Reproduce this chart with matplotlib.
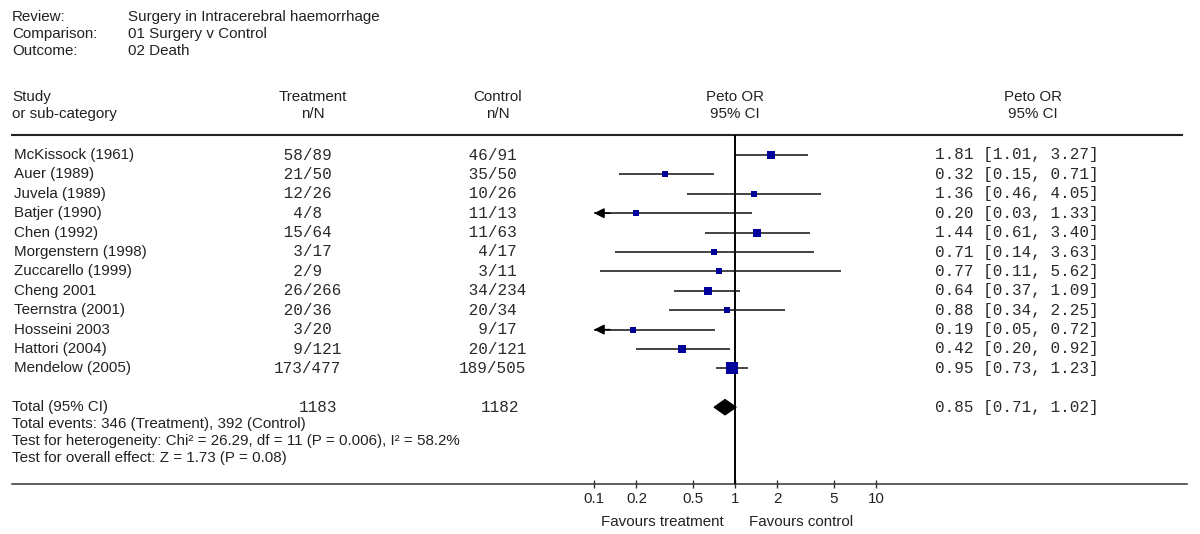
import matplotlib
matplotlib.use("Agg")
import matplotlib.pyplot as plt
from matplotlib.transforms import blended_transform_factory

# ---- data ----
studies = ["McKissock (1961)", "Auer (1989)", "Juvela (1989)", "Batjer (1990)",
           "Chen (1992)", "Morgenstern (1998)", "Zuccarello (1999)", "Cheng 2001",
           "Teernstra (2001)", "Hosseini 2003", "Hattori (2004)", "Mendelow (2005)"]
treat_n = [58, 21, 12, 4, 15, 3, 2, 26, 20, 3, 9, 173]
treat_N = [89, 50, 26, 8, 64, 17, 9, 266, 36, 20, 121, 477]
ctrl_n = [46, 35, 10, 11, 11, 4, 3, 34, 20, 9, 20, 189]
ctrl_N = [91, 50, 26, 13, 63, 17, 11, 234, 34, 17, 121, 505]
peto_or = [1.81, 0.32, 1.36, 0.20, 1.44, 0.71, 0.77, 0.64, 0.88, 0.19, 0.42, 0.95]
ci_lo = [1.01, 0.15, 0.46, 0.03, 0.61, 0.14, 0.11, 0.37, 0.34, 0.05, 0.20, 0.73]
ci_hi = [3.27, 0.71, 4.05, 1.33, 3.40, 3.63, 5.62, 1.09, 2.25, 0.72, 0.92, 1.23]
box_px = [7.5, 6.5, 6.5, 6.5, 7.5, 6.5, 6.5, 8, 6, 6, 7.5, 12.5]  # square sizes

total_treat = 1183
total_ctrl = 1182
total_or, total_lo, total_hi = 0.85, 0.71, 1.02

ticks = [0.1, 0.2, 0.5, 1, 2, 5, 10]
tick_labels = ["0.1", "0.2", "0.5", "1", "2", "5", "10"]

header = [("Review:", "Surgery in Intracerebral haemorrhage"),
          ("Comparison:", "01 Surgery v Control"),
          ("Outcome:", "02 Death")]
footer = ["Total events: 346 (Treatment), 392 (Control)",
          "Test for heterogeneity: Chi\u00b2 = 26.29, df = 11 (P = 0.006), I\u00b2 = 58.2%",
          "Test for overall effect: Z = 1.73 (P = 0.08)"]

W, H = 1200, 534
SANS = "Liberation Sans"
MONO = "Liberation Mono"
TXT = "#222222"
BOX = "#00009a"
fs_sans = 10.9
fs_mono = 11.5
char_px = 0.6 * fs_mono * 100 / 72   # monospace advance in pixels

fig = plt.figure(figsize=(W / 100, H / 100), dpi=100)

# pixel canvas for text and rules
cv = fig.add_axes([0, 0, 1, 1])
cv.set_xlim(0, W)
cv.set_ylim(H, 0)
cv.axis("off")

# forest axes: 0.1 -> x=594px, 10 -> x=876px ; rows between the rules
top_px, bot_px = 135, 484
fx = fig.add_axes([594 / W, 1 - bot_px / H, 282 / W, (bot_px - top_px) / H])
fx.set_xscale("log")
fx.set_xlim(0.1, 10)
row0, step = 155, 19.4
fx.set_ylim((bot_px - row0) / step, (top_px - row0) / step)
fx.patch.set_visible(False)
for s in fx.spines.values():
    s.set_visible(False)
fx.set_yticks([])
fx.set_xticks(ticks)
fx.set_xticklabels(tick_labels, fontfamily=SANS, fontsize=fs_sans, color=TXT)
fx.minorticks_off()
fx.tick_params(axis="x", direction="inout", length=6, width=1, pad=3, color="#333333")

rowtf = blended_transform_factory(cv.transData, fx.transData)

# header block
for i, (lab, val) in enumerate(header):
    y = 17 + i * 17
    cv.text(12, y, lab, fontfamily=SANS, fontsize=fs_sans, color=TXT, va="center")
    cv.text(128, y, val, fontfamily=SANS, fontsize=fs_sans, color=TXT, va="center")

col_heads = [(12, "Study", "or sub-category", "left"),
             (313, "Treatment", "n/N", "center"),
             (498, "Control", "n/N", "center"),
             (735, "Peto OR", "95% CI", "center"),
             (1033, "Peto OR", "95% CI", "center")]
for x, a, b, ha in col_heads:
    cv.text(x, 97, a, fontfamily=SANS, fontsize=fs_sans, color=TXT, va="center", ha=ha)
    cv.text(x, 114, b, fontfamily=SANS, fontsize=fs_sans, color=TXT, va="center", ha=ha)

# rules
cv.plot([12, 1182], [top_px, top_px], color="#222222", lw=1.5)
cv.plot([12, 1187], [bot_px, bot_px], color="#333333", lw=1.1)

fx.axvline(1, color="black", lw=1.4)

mono = dict(fontfamily=MONO, fontsize=fs_mono, color="#2a2a2a", va="center", ha="left")
for i, name in enumerate(studies):
    cv.text(14, i, name, transform=rowtf, fontfamily=SANS, fontsize=fs_sans,
            color=TXT, va="center")
    # numerators right-aligned so the slashes line up
    cv.text(302.5 - 3 * char_px, i, f"{treat_n[i]:>3}/{treat_N[i]}", transform=rowtf, **mono)
    cv.text(487.5 - 3 * char_px, i, f"{ctrl_n[i]:>3}/{ctrl_N[i]}", transform=rowtf, **mono)
    cv.text(935, i, f"{peto_or[i]:.2f} [{ci_lo[i]:.2f}, {ci_hi[i]:.2f}]",
            transform=rowtf, **mono)

    lo = max(ci_lo[i], 0.1)
    fx.plot([lo, ci_hi[i]], [i, i], color="#111111", lw=1.1, solid_capstyle="butt")
    if ci_lo[i] < 0.1:
        fx.annotate("", xy=(0.1, i), xytext=(0.13, i),
                    arrowprops=dict(arrowstyle="-|>", color="black", lw=1.1,
                                    mutation_scale=15, shrinkA=0, shrinkB=0),
                    annotation_clip=False)
    fx.plot([peto_or[i]], [i], marker="s", color=BOX, markersize=box_px[i] * 0.74,
            markeredgewidth=0, zorder=4)

# total row
ty = 13
cv.text(12, ty, "Total (95% CI)", transform=rowtf, fontfamily=SANS, fontsize=fs_sans,
        color=TXT, va="center")
cv.text(318, ty, str(total_treat), transform=rowtf, fontfamily=MONO, fontsize=fs_mono,
        color="#2a2a2a", va="center", ha="center")
cv.text(500, ty, str(total_ctrl), transform=rowtf, fontfamily=MONO, fontsize=fs_mono,
        color="#2a2a2a", va="center", ha="center")
cv.text(935, ty, f"{total_or:.2f} [{total_lo:.2f}, {total_hi:.2f}]",
        transform=rowtf, **mono)
dh = 0.4
fx.fill([total_lo, total_or, total_hi, total_or], [ty, ty - dh, ty, ty + dh],
        color="black", lw=0.8, zorder=4)

for k, line in enumerate(footer):
    cv.text(12, 424 + k * 17, line, fontfamily=SANS, fontsize=fs_sans, color=TXT,
            va="center")

cv.text(662, 522, "Favours treatment", fontfamily=SANS, fontsize=fs_sans, color=TXT,
        va="center", ha="center")
cv.text(801, 522, "Favours control", fontfamily=SANS, fontsize=fs_sans, color=TXT,
        va="center", ha="center")

fig.savefig("out.png", dpi=100)
